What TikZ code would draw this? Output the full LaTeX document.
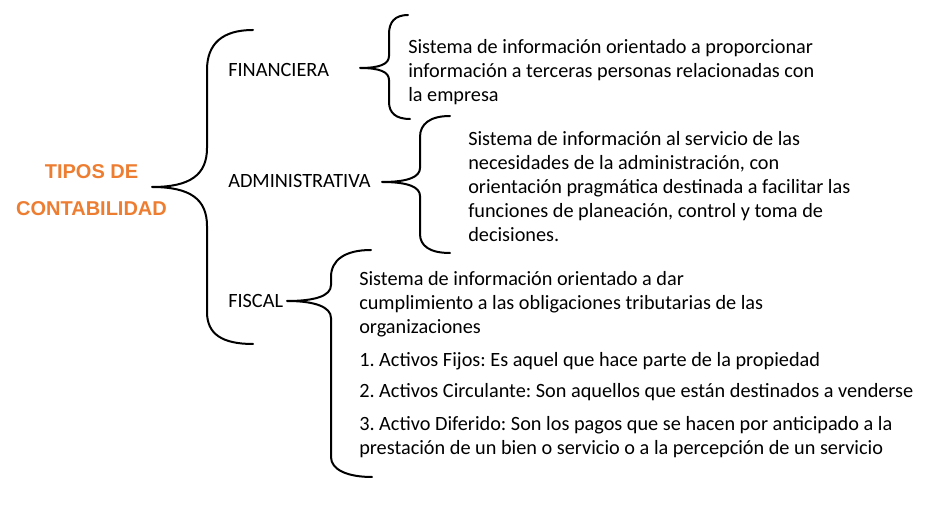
\documentclass[tikz,border=0pt]{standalone}
\usepackage{fontspec}
\setmainfont{Carlito}
\newfontfamily\titlefont{Liberation Sans}
\definecolor{orangeT}{RGB}{237,125,49}
\frenchspacing
\newcommand\mypara[3]{\parbox[t]{#1}{\frenchspacing\setlength\baselineskip{#2}\raggedright #3}}
\begin{document}
\begin{tikzpicture}[x=0.75pt,y=-0.75pt,
  lbl/.style={anchor=base west, inner sep=0pt, font=\fontsize{15.2}{18}\selectfont},
  titletxt/.style={anchor=base, inner sep=0pt, text=orangeT, font=\titlefont\bfseries\fontsize{15}{18}\selectfont},
  brace/.style={draw=black, line width=1.5pt, line cap=round, line join=round}
]
\useasboundingbox (0,0) rectangle (939,505);

% title
\node[titletxt] (tA) at (91.5,179) {TIPOS DE};
\node[titletxt] (tB) at (91.5,216) {CONTABILIDAD};

% first-level labels
\node[lbl] (fin) at (228,77) {FINANCIERA};
\node[lbl] (adm) at (228,188) {ADMINISTRATIVA};
\node[lbl] (fis) at (228,308) {FISCAL};

% descriptions
\node[lbl] (finD) at (408,53.5) {\mypara{450pt}{18pt}{Sistema de información orientado a proporcionar\\
información a terceras personas relacionadas con\\
la empresa}};
\node[lbl] (admD) at (468,146) {\mypara{450pt}{18pt}{Sistema de información al servicio de las\\
necesidades de la administración, con\\
orientación pragmática destinada a facilitar las\\
funciones de planeación, control y toma de\\
decisiones.}};
\node[lbl] (fisD) at (359,285.5) {\mypara{450pt}{18pt}{Sistema de información orientado a dar\\
cumplimiento a las obligaciones tributarias de las\\
organizaciones}};
\node[lbl] (it1) at (359,367) {1. Activos Fijos: Es aquel que hace parte de la propiedad};
\node[lbl] (it2) at (359,398) {2. Activos Circulante: Son aquellos que están destinados a venderse};
\node[lbl] (it3) at (359,431) {\mypara{480pt}{18pt}{3. Activo Diferido: Son los pagos que se hacen por anticipado a la\\
prestación de un bien o servicio o a la percepción de un servicio}};

% brace tips
\coordinate (b1) at (152,187);
\coordinate (b2) at (360,68);
\coordinate (b3) at (382,182);
\coordinate (b4) at (287,301);

% main brace
\draw[brace] (253,30) .. controls (222,30) and (207,44) .. (207,70)
  -- (207,148) .. controls (207,175) and (190,187) .. (b1)
  .. controls (190,187) and (207,199) .. (207,226)
  -- (207,312) .. controls (207,334) and (222,344) .. (253,344);

% FINANCIERA brace
\draw[brace] (408,15) .. controls (395,15) and (389,22) .. (389,34)
  -- (389,56) .. controls (389,64) and (380,68) .. (b2)
  .. controls (380,68) and (389,72) .. (389,80)
  -- (389,102) .. controls (389,113) and (396,119) .. (410,119);

% ADMINISTRATIVA brace
\draw[brace] (450,116) .. controls (430,116) and (420,124) .. (420,137)
  -- (420,168) .. controls (420,177) and (408,182) .. (b3)
  .. controls (408,182) and (420,187) .. (420,196)
  -- (420,234) .. controls (420,246) and (430,253) .. (450,253);

% FISCAL brace
\draw[brace] (371,250) .. controls (345,250) and (331,260) .. (331,277)
  -- (331,285) .. controls (331,296) and (315,301) .. (b4)
  .. controls (315,301) and (331,307) .. (331,318)
  -- (331,457) .. controls (331,470) and (348,477) .. (372,477);
\end{tikzpicture}
\end{document}
